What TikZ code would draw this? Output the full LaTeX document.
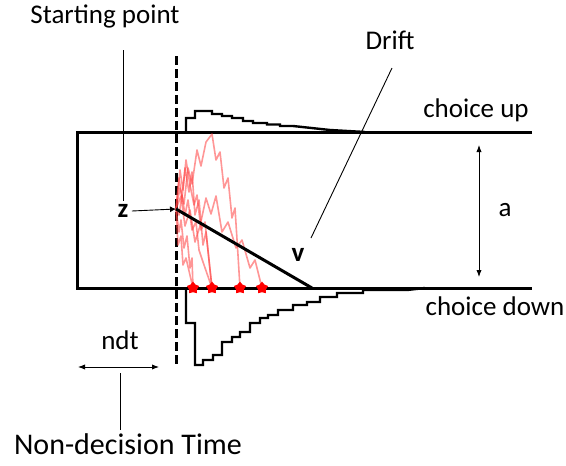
\documentclass[tikz,border=0pt]{standalone}
\usepackage{fontspec}
\setmainfont{Carlito}
\usetikzlibrary{arrows.meta,positioning,shapes.geometric}

\begin{document}
\begin{tikzpicture}[x=1pt, y=-1pt, >=Latex, every node/.style={font=\fontsize{27}{30}\selectfont},
  bound/.style={line width=3pt},
  hist/.style={line width=2.4pt},
  pointer/.style={line width=0.9pt},
  trace/.style={red!75, opacity=0.55, line width=1.6pt, line join=round}]
\useasboundingbox (0,0) rectangle (566,466);

% boundaries and onset
\coordinate (s0) at (176,209);
\coordinate (e1) at (193,288);
\coordinate (e2) at (212,288);
\coordinate (e3) at (240,288);
\coordinate (e4) at (262,288);
\draw[bound] (532,132) -- (77,132) -- (77,288) -- (532,288);
\draw[bound, dash pattern=on 9pt off 4pt] (176,56) -- (176,366);

% histograms
\draw[hist] (186,132) |- (195,118) |- (212,111) |- (222,114) |- (232,116) |- (243,118) |- (253,121)
  |- (267,123) |- (280,124.5) |- (293,126) -- (330,130) -- (365,132);
\draw[hist] (186,288) |- (195,323) |- (203,365) |- (213,360) |- (222,355) |- (232,342) |- (240,337)
  |- (250,332) |- (260,323) |- (268,318) |- (278,315) |- (293,310) |- (307,305) |- (320,302)
  |- (337,297) |- (363,293) |- (407,290) -- (425,288);

% sample paths
\draw[trace] (s0) -- (179,232) -- (181,220) -- (184,248) -- (187,236) -- (190,268) -- (192,258) -- (e1);
\draw[trace] (s0) -- (179,178) -- (182,198) -- (185,168) -- (189,192) -- (192,172) -- (195,215) -- (199,200)
  -- (203,245) -- (206,232) -- (210,270) -- (e2);
\draw[trace] (s0) -- (180,188) -- (184,204) -- (188,168) -- (192,184) -- (197,150) -- (201,166) -- (206,142)
  -- (212,134) -- (216,160) -- (220,152) -- (224,188) -- (228,178) -- (232,218) -- (235,208) -- (238,255) -- (e3);
\draw[trace] (s0) -- (181,196) -- (185,226) -- (190,210) -- (195,242) -- (200,226) -- (206,198) -- (211,214)
  -- (216,196) -- (222,232) -- (228,222) -- (236,248) -- (242,240) -- (250,268) -- (255,260) -- (e4);
\draw[trace] (s0) -- (178,245) -- (181,236) -- (183,265) -- (186,258) -- (e1);
\draw[trace] (s0) -- (180,170) -- (183,190) -- (186,160) -- (190,185) -- (194,205) -- (197,195) -- (201,230)
  -- (205,222) -- (e2);
\draw[trace] (s0) -- (179,215) -- (182,195) -- (185,215) -- (188,200) -- (192,230) -- (196,222) -- (199,250)
  -- (203,262) -- (e2);
\foreach \e in {e1,e2,e3,e4}
  \node[star, star points=5, fill=red, inner sep=3pt] at (\e) {};

% drift
\coordinate (v1) at (312,288);
\draw[bound] (s0) -- (v1);

% labels
\node (start) at (105,16) {Starting point};
\node[font=\fontsize{27}{30}\selectfont\bfseries] (zl) at (123,211) {z};
\node (drift) at (390,40) {Drift};
\node[font=\fontsize{27}{30}\selectfont\bfseries] (vl) at (298,255) {v};
\node (up) at (476,110) {choice up};
\node (down) at (495,306) {choice down};
\node (al) at (505,210) {a};
\node (ndt) at (120,340) {ndt};
\node[font=\fontsize{30}{34}\selectfont] (ndtime) at (128,444) {Non-decision Time};

\coordinate (sp) at (123,50);
\coordinate (dtop) at (392,68);
\coordinate (dbot) at (311,238);
\coordinate (atop) at (479,145);
\coordinate (abot) at (479,277);
\coordinate (nl) at (78,367);
\coordinate (nr) at (159,367);
\coordinate (nm) at (120,373);

\draw[pointer] (sp) -- (sp |- zl.north);
\draw[pointer, -{Latex[length=6pt,width=6pt]}] (zl.east) -- (s0);
\draw[pointer] (dtop) -- (dbot);
\draw[pointer, {Latex[length=7pt]}-{Latex[length=7pt]}] (atop) -- (abot);
\draw[pointer, {Latex[length=7pt]}-{Latex[length=7pt]}] (nl) -- (nr);
\draw[pointer] (nm) -- (nm |- ndtime.north);
\end{tikzpicture}
\end{document}
